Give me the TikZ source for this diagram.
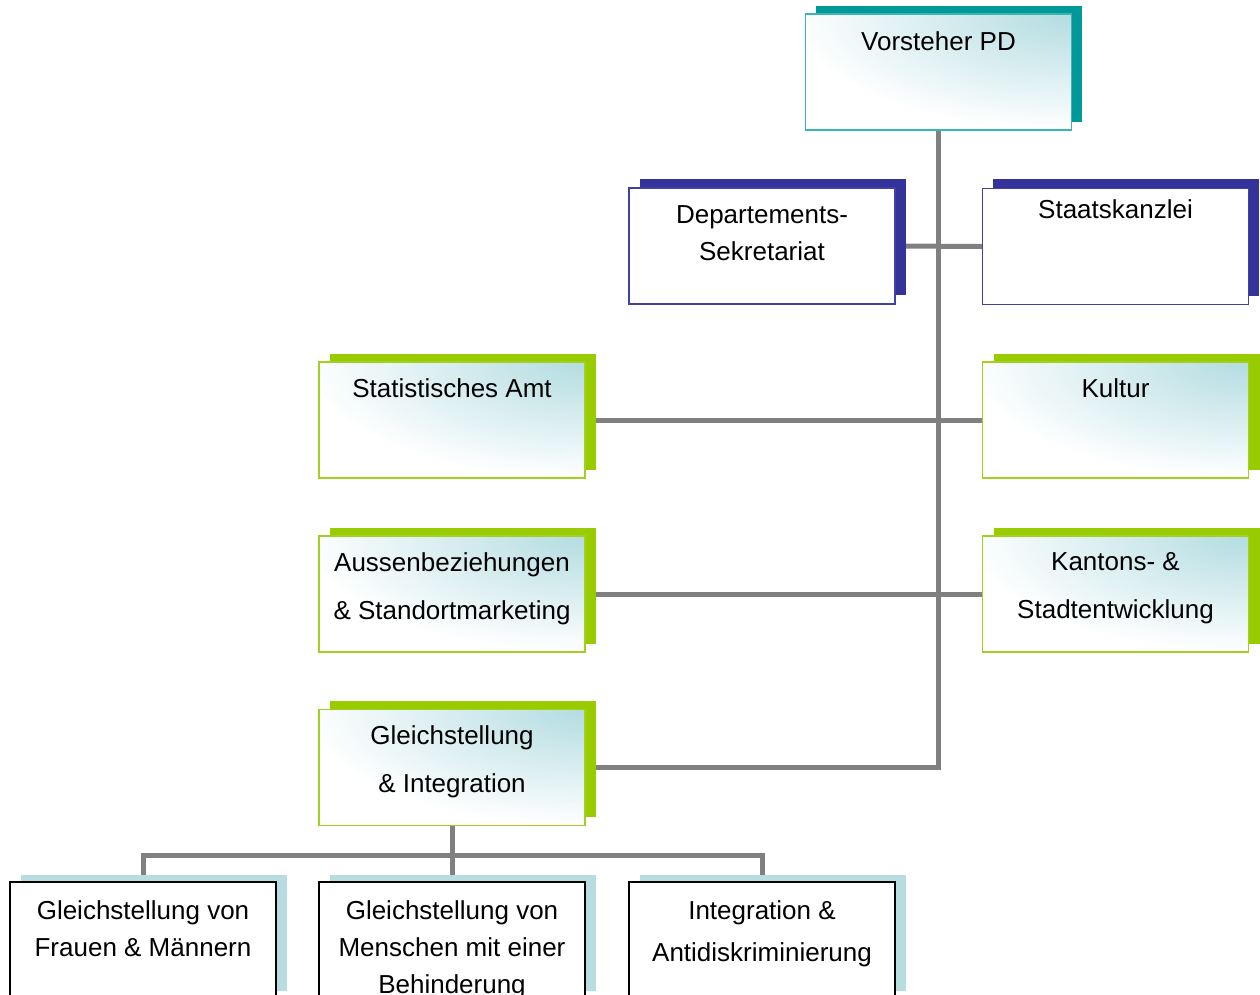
\documentclass[tikz,border=0pt]{standalone}
\usepackage{fontspec}
\setmainfont{Liberation Sans}
\usetikzlibrary{shadows,backgrounds}
\definecolor{tealsh}{HTML}{009999}
\definecolor{tealbd}{HTML}{3CB4B4}
\definecolor{bluesh}{HTML}{333399}
\definecolor{bluebd}{HTML}{4040A8}
\definecolor{greensh}{HTML}{99CC00}
\definecolor{greenbd}{HTML}{A2D020}
\definecolor{lightsh}{HTML}{B7DDE1}
\definecolor{gradblue}{HTML}{B3DCE1}
\definecolor{conn}{HTML}{808080}
\begin{document}
\begin{tikzpicture}[x=1pt,y=-1pt,
  box/.style={draw, line width=1.5pt, minimum width=266pt, minimum height=116pt, inner sep=0pt},
  grad/.style={fill=white, path picture={\shade[inner color=gradblue, outer color=white]
      (path picture bounding box.north east) ellipse [x radius=280pt, y radius=115pt];}},
  tealbox/.style={box, draw=tealbd, grad, general shadow={fill=tealsh, shadow xshift=10.5pt, shadow yshift=8pt}},
  bluebox/.style={box, draw=bluebd, fill=white, general shadow={fill=bluesh, shadow xshift=10.5pt, shadow yshift=9pt}},
  greenbox/.style={box, draw=greenbd, grad, general shadow={fill=greensh, shadow xshift=11pt, shadow yshift=8.5pt}},
  lowbox/.style={box, draw=black, fill=white, general shadow={fill=lightsh, shadow xshift=10.5pt, shadow yshift=7pt}},
  txt/.style={anchor=north, inner sep=0pt, align=center, font=\fontsize{26}{37}\selectfont},
  link/.style={draw=conn, line width=5pt}
]
\useasboundingbox (0,0) rectangle (1260,995);

\node[tealbox]  (vor)   at (938.5,72)   {};
\node[bluebox]  (dep)   at (762,246)    {};
\node[bluebox]  (sta)   at (1115.5,246.5) {};
\node[greenbox] (stat)  at (452,420)    {};
\node[greenbox] (kul)   at (1115.5,420) {};
\node[greenbox] (aus)   at (452,594)    {};
\node[greenbox] (kan)   at (1115.5,594) {};
\node[greenbox] (gi)    at (452,767.5)  {};
\node[lowbox]   (b1)    at (143,940)    {};
\node[lowbox]   (b2)    at (452,940)    {};
\node[lowbox]   (b3)    at (762,940)    {};

\node[txt] (tvor)  at ([yshift=-18pt]vor.north)  {Vorsteher PD};
\node[txt] (tdep)  at ([yshift=-18pt]dep.north)  {Departements-\\Sekretariat};
\node[txt] (tsta)  at ([yshift=-12pt]sta.north)  {Staatskanzlei};
\node[txt] (tstat) at ([yshift=-17pt]stat.north) {Statistisches Amt};
\node[txt] (tkul)  at ([yshift=-17pt]kul.north)  {Kultur};
\node[txt] (taus)  at ([yshift=-17pt]aus.north)  {Aussenbeziehungen\\[11pt]\& Standortmarketing};
\node[txt] (tkan)  at ([yshift=-17pt]kan.north)  {Kantons- \&\\[11pt]Stadtentwicklung};
\node[txt] (tgi)   at ([yshift=-17pt]gi.north)   {Gleichstellung\\[11pt]\& Integration};
\node[txt] (tb1)   at ([yshift=-19pt]b1.north)   {Gleichstellung von\\Frauen \& Männern};
\node[txt] (tb2)   at ([yshift=-19pt]b2.north)   {Gleichstellung von\\Menschen mit einer\\Behinderung};
\node[txt] (tb3)   at ([yshift=-19pt]b3.north)   {Integration \&\\[5pt]Antidiskriminierung};

\coordinate (bar) at (452,855);
\begin{scope}[on background layer]
  \draw[link] (vor.south) |- (gi.east);
  \draw[link] (dep.east) -- (sta.west);
  \draw[link] (stat.east) -- (kul.west);
  \draw[link] (aus.east) -- (kan.west);
  \draw[link] (gi.south) -- (b2.north);
  \draw[link] (b1.north) |- (bar) -| (b3.north);
\end{scope}
\end{tikzpicture}
\end{document}
